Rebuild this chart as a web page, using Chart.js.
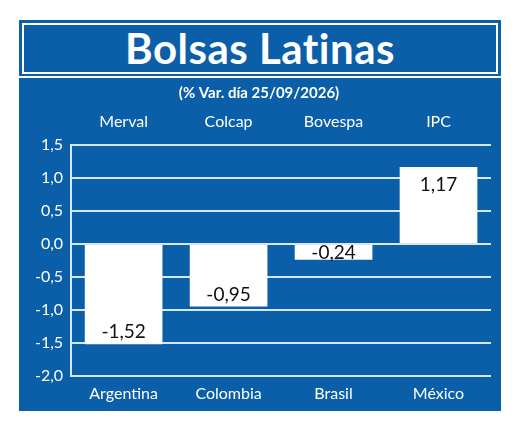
<!DOCTYPE html>
<html>
<head>
<meta charset="utf-8">
<script src="https://cdn.jsdelivr.net/npm/chart.js@4"></script>
<style>
  body { margin: 0; background: #fff; width: 520px; height: 427px; position: relative; font-family: Lato, "Open Sans", sans-serif; }
  #outer { position: absolute; left: 19px; top: 20px; width: 482px; height: 391px; background: #0b5ea8; }
  #title { position: absolute; left: 3px; top: 3px; width: 472px; height: 47px; border: 2px solid #fff; color: #fff;
           font-size: 42px; font-weight: bold; text-align: center; line-height: 47px; letter-spacing: 0.5px; }
  #wrap { position: absolute; left: 0; top: 56px; width: 482px; height: 335px; border-top: 2px solid #fff; }
</style>
</head>
<body>
<div id="outer">
  <div id="title">Bolsas Latinas</div>
  <div id="wrap"><canvas id="myChart" width="482" height="333"></canvas></div>
</div>
<script>
// Datos del gráfico
const paises = ['Argentina', 'Colombia', 'Brasil', 'México'];
const indices = ['Merval', 'Colcap', 'Bovespa', 'IPC'];
const variaciones = [-1.52, -0.95, -0.24, 1.17];

const fmt = v => v.toFixed(2).replace('.', ',');

// Etiquetas de valor dentro de las barras
const valueLabels = {
    id: 'valueLabels',
    afterDatasetsDraw(chart) {
        const ctx = chart.ctx;
        const meta = chart.getDatasetMeta(0);
        ctx.save();
        ctx.fillStyle = '#111';
        ctx.font = '19px Lato, "Open Sans", sans-serif';
        ctx.textAlign = 'center';
        ctx.textBaseline = 'middle';
        meta.data.forEach((bar, i) => {
            const v = variaciones[i];
            const len = Math.abs(bar.y - bar.base);
            let y;
            if (len < 40) y = (bar.y + bar.base) / 2;
            else y = v < 0 ? bar.y - 12 : bar.y + 18;
            ctx.fillText(fmt(v), bar.x, y);
        });
        ctx.restore();
    }
};

const white = '#ffffff';
const tickFont = { family: 'Lato, "Open Sans", sans-serif', size: 16 };

new Chart(document.getElementById('myChart').getContext('2d'), {
    type: 'bar',
    data: {
        labels: paises,
        datasets: [{
            data: variaciones,
            backgroundColor: white,
            borderWidth: 0,
            categoryPercentage: 0.74,
            barPercentage: 1
        }]
    },
    options: {
        responsive: false,
        animation: false,
        devicePixelRatio: 1,
        layout: { padding: { left: 8, right: 10, top: 0, bottom: 8 } },
        plugins: {
            legend: { display: false },
            tooltip: { enabled: false },
            title: {
                display: true,
                text: '(% Var. día 25/09/2026)',
                color: white,
                font: { family: 'Lato, "Open Sans", sans-serif', size: 15 },
                padding: { top: 6, bottom: 4 }
            }
        },
        scales: {
            x: {
                position: 'bottom',
                grid: { display: false },
                border: { display: false },
                ticks: { color: white, font: tickFont, padding: 0 }
            },
            x2: {
                position: 'top',
                type: 'category',
                labels: indices,
                grid: { display: false },
                border: { display: false },
                ticks: { color: white, font: tickFont, padding: 6 }
            },
            y: {
                min: -2,
                max: 1.5,
                ticks: {
                    stepSize: 0.5,
                    color: white,
                    font: tickFont,
                    padding: 8,
                    callback: v => v.toFixed(1).replace('.', ',')
                },
                grid: { color: '#d6e7f7', lineWidth: 2, drawTicks: false },
                border: { color: '#d6e7f7', width: 2 }
            }
        }
    },
    plugins: [valueLabels]
});
</script>
</body>
</html>
